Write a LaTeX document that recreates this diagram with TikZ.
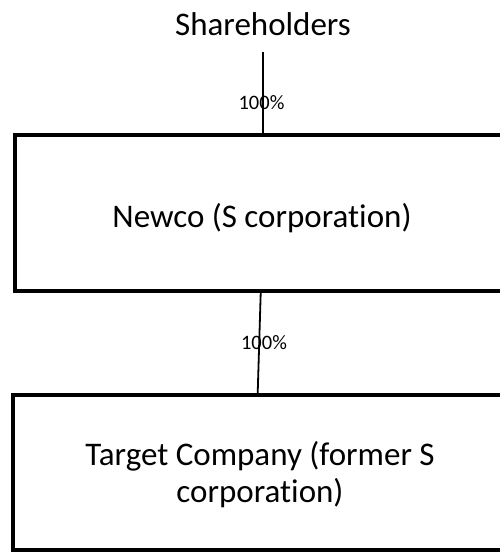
\documentclass[tikz,border=0pt]{standalone}
\usepackage{fontspec}
\setmainfont{Carlito}[Ligatures=NoCommon]
\begin{document}
\begin{tikzpicture}[x=1pt,y=-1pt,
  entity/.style={draw=black, line width=4pt, align=center, inner sep=0pt,
    font=\fontsize{33}{37}\selectfont},
  owner/.style={inner sep=0pt, font=\fontsize{33}{37}\selectfont},
  link/.style={draw=black, line width=1.8pt},
  pct/.style={inner sep=0pt, font=\fontsize{20.5}{22}\selectfont}]
  \useasboundingbox (0,0) rectangle (499,553);

  % owners and the two companies
  \node[owner, anchor=base] (sh) at (263,36) {Shareholders};
  \node[entity, minimum width=493.4pt, minimum height=156.3pt] (newco) at (262,213)
    {\raisebox{-14pt}[0pt][0pt]{Newco (S corporation)}};
  \node[entity, minimum width=494.6pt, minimum height=154.5pt] (target) at (260,472.3)
    {\raisebox{7pt}[0pt][0pt]{\parbox[t]{420pt}{\centering
      Target Company (former S\\corporation)}}};

  % ownership links
  \draw[link] ([yshift=-16pt]sh.base) -- ([xshift=1pt]newco.north);
  \draw[link] ([xshift=-1.3pt]newco.south) -- ([xshift=-2.3pt]target.north);

  % ownership percentages
  \node[pct, anchor=base] (p1) at (261.5,110) {100\%};
  \node[pct, anchor=base] (p2) at (264,349) {100\%};
\end{tikzpicture}
\end{document}
